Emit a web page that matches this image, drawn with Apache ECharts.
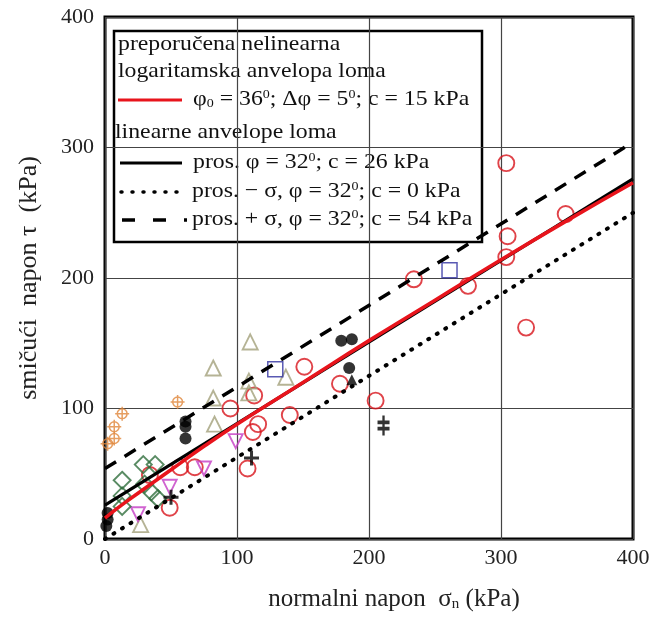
<!DOCTYPE html>
<html>
<head>
<meta charset="utf-8">
<script src="https://cdn.jsdelivr.net/npm/echarts@6/dist/echarts.min.js"></script>
<style>
html,body{margin:0;padding:0;background:#fff;}
#chart{width:654px;height:617px;}
</style>
</head>
<body>
<div id="chart"></div>
<script>
// ---- data ----
const xTicks = [0, 100, 200, 300, 400];
const yTicks = [0, 100, 200, 300, 400];

const redCircles = [[304,288],[349,249],[305,232],[304,216],[275,194],[319,162],[234,199],[151,132],[178,119],[205,106],[113,110],[95,100],[140,95],[116,88],[112,82],[108,54],[57,55],[68,55],[34,49],[49,24]];
const blackDots = [[179,152],[187,153],[185,131],[61,90],[61,86],[61,77],[2,20],[2,15],[1,10]];
const blackTriangles = [[187,122]];
const oliveTriangles = [[110,151],[82,131],[109,121],[137,124],[109,112],[82,108],[83,88],[27,11]];
const magentaTriangles = [[99,75],[75,54],[49,40],[25,19]];
const greenDiamonds = [[13,45],[13,33],[13,25],[29,57],[38,57],[30,42],[35,36],[40,31]];
const orangeMarks = [[2,73],[7,77],[7,86],[13,96],[55,105]];
const blueSquares = [[261,206],[129,130]];
const blackPlus = [[111,62],[50,32]];
const doubleCross = [[211,87]];

const logEnvelope = [[0,16],[10,24],[25,35],[50,53],[75,71],[100,88],[150,120],[200,152],[250,183],[300,214],[350,244],[400,273]];
const linMean = [[0,26],[400,276]];
const linMinus = [[0,0],[400,250]];
const linPlus = [[0,54],[400,304]];

const FONT = '"Liberation Serif", "Times New Roman", serif';

const chart = echarts.init(document.getElementById('chart'), null, {renderer: 'canvas'});

function openScatter(name, data, symbol, size, color, extra) {
  return Object.assign({
    name: name, type: 'scatter', data: data, symbol: symbol, symbolSize: size,
    itemStyle: {color: 'rgba(0,0,0,0)', borderColor: color, borderWidth: 1.9},
    emphasis: {disabled: true}, z: 3
  }, extra || {});
}

const legendItems = [];
const L = {x: 114, y: 31, w: 368, h: 211};
legendItems.push({type: 'rect', shape: {x: L.x, y: L.y, width: L.w, height: L.h},
  style: {fill: '#fff', stroke: '#000', lineWidth: 2.5}});
function legText(x, y, txt) {
  legendItems.push({type: 'text', x: x, y: y, scaleX: 1.08,
    style: {text: txt, x: 0, y: 0, font: '22px ' + FONT, fill: '#111', verticalAlign: 'middle',
      rich: {
        sup: {fontSize: 13, fontFamily: FONT, verticalAlign: 'top', fill: '#111', padding: [0,0,8,0]},
        sub: {fontSize: 13, fontFamily: FONT, verticalAlign: 'bottom', fill: '#111', padding: [8,0,0,0]}
      }}});
}
legText(118, 44, 'preporučena nelinearna');
legText(118, 71, 'logaritamska anvelopa loma');
legText(193, 99, 'φ{sub|0} = 36{sup|0}; Δφ = 5{sup|0}; c = 15 kPa');
legText(115, 132, 'linearne anvelope loma');
legText(193, 162, 'pros. φ = 32{sup|0}; c = 26 kPa');
legText(192, 191, 'pros. − σ, φ = 32{sup|0}; c = 0 kPa');
legText(192, 219, 'pros. + σ, φ = 32{sup|0}; c = 54 kPa');
legendItems.push({type: 'line', shape: {x1: 118, y1: 100, x2: 182, y2: 100}, style: {stroke: '#e8141c', lineWidth: 3}});
legendItems.push({type: 'line', shape: {x1: 120, y1: 163, x2: 182, y2: 163}, style: {stroke: '#000', lineWidth: 3.2}});
legendItems.push({type: 'line', shape: {x1: 121, y1: 192, x2: 186, y2: 192}, style: {stroke: '#000', lineWidth: 3.5, lineDash: [1, 10], lineCap: 'round'}});
legendItems.push({type: 'line', shape: {x1: 122, y1: 220, x2: 187, y2: 220}, style: {stroke: '#000', lineWidth: 3.5, lineDash: [13, 18]}});

const option = {
  backgroundColor: '#fff',
  animation: false,
  grid: {left: 105, top: 17, width: 528, height: 528, show: true, borderColor: '#000', borderWidth: 3, backgroundColor: 'transparent'},
  xAxis: {
    type: 'value', min: xTicks[0], max: xTicks[xTicks.length - 1], interval: 100,
    name: 'normalni napon  σ{sub|n} (kPa)', nameLocation: 'middle', nameGap: 48,
    nameTextStyle: {fontFamily: FONT, fontSize: 25, color: '#222', padding: [0, 0, 0, 50],
      rich: {sub: {fontFamily: FONT, fontSize: 15, color: '#222', verticalAlign: 'bottom', padding: [10,0,0,0]}}},
    axisLine: {show: false}, axisTick: {show: false},
    axisLabel: {fontFamily: FONT, fontSize: 22, color: '#222', margin: 8},
    splitLine: {show: true, lineStyle: {color: '#444', width: 1.2}}
  },
  yAxis: {
    type: 'value', min: yTicks[0], max: yTicks[yTicks.length - 1], interval: 100,
    name: 'smičući  napon τ  (kPa)', nameLocation: 'middle', nameGap: 63, nameRotate: 90,
    nameTextStyle: {fontFamily: FONT, fontSize: 26, color: '#222'},
    axisLine: {show: false}, axisTick: {show: false},
    axisLabel: {fontFamily: FONT, fontSize: 22, color: '#222', margin: 11},
    splitLine: {show: true, lineStyle: {color: '#444', width: 1.2}}
  },
  graphic: [{type: 'group', z: 100, children: legendItems}],
  series: [
    openScatter('crveni krugovi', redCircles, 'circle', 16, '#d8141c'),
    {name: 'crne točke', type: 'scatter', data: blackDots, symbol: 'circle', symbolSize: 12, itemStyle: {color: '#000'}, z: 3},
    {name: 'crni trokuti', type: 'scatter', data: blackTriangles, symbol: 'triangle', symbolSize: 11, itemStyle: {color: '#000'}, z: 3},
    openScatter('trokuti', oliveTriangles, 'triangle', 15, '#a3a07a'),
    openScatter('obrnuti trokuti', magentaTriangles, 'triangle', 14, '#c43cc4', {symbolRotate: 180}),
    openScatter('rombovi', greenDiamonds, 'diamond', 17, '#2f6e3c'),
    openScatter('narančasti', orangeMarks, 'path://M17,10A7,7 0 1,1 3,10A7,7 0 1,1 17,10Z M10,0L10,20 M0,10L20,10', 14, '#e0863a', {itemStyle: {color: 'rgba(0,0,0,0)', borderColor: '#e0863a', borderWidth: 1.5}}),
    openScatter('kvadrati', blueSquares, 'rect', 15, '#3030a0', {itemStyle: {color: 'rgba(0,0,0,0)', borderColor: '#3030a0', borderWidth: 1.5}}),
    openScatter('križevi', blackPlus, 'path://M0,10L20,10M10,0L10,20', 15, '#000', {itemStyle: {color: 'rgba(0,0,0,0)', borderColor: '#000', borderWidth: 3}}),
    openScatter('dvostruki križ', doubleCross, 'path://M10,0L10,32M2,11L18,11M2,21L18,21', [12, 20], '#000', {itemStyle: {color: 'rgba(0,0,0,0)', borderColor: '#000', borderWidth: 3}}),
    {name: 'pros. + σ', type: 'line', data: linPlus, showSymbol: false, symbol: 'none', z: 5,
      lineStyle: {color: '#000', width: 3.5, type: [13, 10]}},
    {name: 'pros. − σ', type: 'line', data: linMinus, showSymbol: false, symbol: 'none', z: 5,
      lineStyle: {color: '#000', width: 4, type: [1, 9], cap: 'round'}},
    {name: 'pros.', type: 'line', data: linMean, showSymbol: false, symbol: 'none', z: 5,
      lineStyle: {color: '#000', width: 3.2}},
    {name: 'log. anvelopa', type: 'line', data: logEnvelope, showSymbol: false, symbol: 'none', smooth: true, z: 6,
      lineStyle: {color: '#e8141c', width: 3.6}}
  ]
};
chart.setOption(option);
</script>
</body>
</html>
